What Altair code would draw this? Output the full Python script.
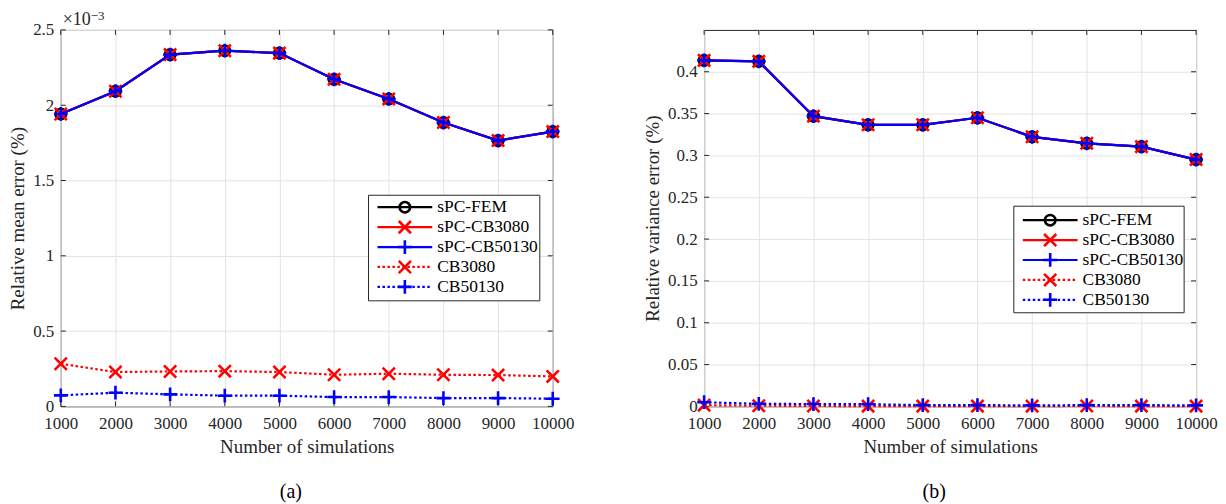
import altair as alt
import pandas as pd

# ---------------- data ----------------
sims = [1000, 2000, 3000, 4000, 5000, 6000, 7000, 8000, 9000, 10000]
series_names = ["sPC-FEM", "sPC-CB3080", "sPC-CB50130", "CB3080", "CB50130"]

# (a) relative mean error (%), in units of 1e-3
mean_spc_fem = [1.942, 2.093, 2.336, 2.362, 2.346, 2.172, 2.042, 1.885, 1.765, 1.825]
mean_spc_cb3080 = [1.942, 2.093, 2.336, 2.362, 2.346, 2.172, 2.042, 1.885, 1.765, 1.825]
mean_spc_cb50130 = [1.942, 2.093, 2.336, 2.362, 2.346, 2.172, 2.042, 1.885, 1.765, 1.825]
mean_cb3080 = [0.283, 0.228, 0.232, 0.234, 0.228, 0.210, 0.217, 0.210, 0.208, 0.199]
mean_cb50130 = [0.073, 0.091, 0.080, 0.071, 0.071, 0.062, 0.062, 0.055, 0.055, 0.051]

# (b) relative variance error (%)
var_spc_fem = [0.4136, 0.4124, 0.3469, 0.3366, 0.3366, 0.3450, 0.3222, 0.3145, 0.3105, 0.2950]
var_spc_cb3080 = [0.4136, 0.4124, 0.3469, 0.3366, 0.3366, 0.3450, 0.3222, 0.3145, 0.3105, 0.2950]
var_spc_cb50130 = [0.4136, 0.4124, 0.3469, 0.3366, 0.3366, 0.3450, 0.3222, 0.3145, 0.3105, 0.2950]
var_cb3080 = [0.0015, 0.0008, 0.0005, 0.0003, 0.0003, 0.0003, 0.0003, 0.0005, 0.0003, 0.0003]
var_cb50130 = [0.0050, 0.0030, 0.0028, 0.0026, 0.0015, 0.0015, 0.0012, 0.0015, 0.0015, 0.0012]

x_ticks = [1000, 2000, 3000, 4000, 5000, 6000, 7000, 8000, 9000, 10000]
mean_y_ticks = [0, 0.5, 1, 1.5, 2, 2.5]
var_y_ticks = [0, 0.05, 0.1, 0.15, 0.2, 0.25, 0.3, 0.35, 0.4]

# ---------------- style ----------------
W, H = 494, 378
FONT = "Liberation Serif"
AX = "#262626"
GRID = "#e3e3e3"
X_PATH = "M-1,-1L1,1M-1,1L1,-1"
PLUS_PATH = "M-1,0L1,0M0,-1L0,1"
styles = {
    "sPC-FEM": dict(color="#000000", dash=None, shape="circle", size=110),
    "sPC-CB3080": dict(color="#ff0000", dash=None, shape=X_PATH, size=150),
    "sPC-CB50130": dict(color="#0000ff", dash=None, shape=PLUS_PATH, size=190),
    "CB3080": dict(color="#ff0000", dash=[2.5, 2.5], shape=X_PATH, size=150),
    "CB50130": dict(color="#0000ff", dash=[2.5, 2.5], shape=PLUS_PATH, size=190),
}


def line_kwargs(st):
    kw = dict(color=st["color"], strokeWidth=2.2, strokeCap="butt")
    if st["dash"]:
        kw["strokeDash"] = st["dash"]
    return kw


def point_kwargs(st):
    return dict(shape=st["shape"], filled=False, size=st["size"], strokeWidth=2.6,
                color=st["color"], opacity=1)


def panel(values, y_title, y_domain, y_ticks, leg, tag, sci=False):
    X = alt.X("n:Q", title="Number of simulations",
              scale=alt.Scale(domain=[1000, 10000], nice=False, zero=False),
              axis=alt.Axis(values=x_ticks, format="d", labelFlush=False, ticks=False,
                            domain=False, grid=True, gridColor=GRID, labelPadding=9,
                            titlePadding=6))
    Y = alt.Y("v:Q", title=y_title,
              scale=alt.Scale(domain=y_domain, nice=False, zero=False),
              axis=alt.Axis(values=y_ticks, format="~g", ticks=False, domain=False,
                            grid=True, gridColor=GRID, labelPadding=7, titlePadding=5))
    layers = []
    # inward tick marks (box on)
    xt = pd.DataFrame({"n": x_ticks})
    yt = pd.DataFrame({"v": y_ticks})
    layers.append(alt.Chart(xt).mark_rule(color=AX, strokeWidth=1).encode(
        x=X, y=alt.value(H), y2=alt.value(H - 5)))
    layers.append(alt.Chart(xt).mark_rule(color=AX, strokeWidth=1).encode(
        x=X, y=alt.value(0), y2=alt.value(5)))
    layers.append(alt.Chart(yt).mark_rule(color=AX, strokeWidth=1).encode(
        y=Y, x=alt.value(0), x2=alt.value(5)))
    layers.append(alt.Chart(yt).mark_rule(color=AX, strokeWidth=1).encode(
        y=Y, x=alt.value(W), x2=alt.value(W - 5)))

    for name, vals in zip(series_names, values):
        st = styles[name]
        df = pd.DataFrame({"n": sims, "v": vals})
        layers.append(alt.Chart(df).mark_line(**line_kwargs(st)).encode(x=X, y=Y))
        layers.append(alt.Chart(df).mark_point(**point_kwargs(st)).encode(x=X, y=Y))

    # legend
    leg_df = pd.DataFrame({"label": series_names, "i": list(range(len(series_names)))})
    bx0, bx1, by0, by1, ry0, lx0, lx1, tx = leg
    layers.append(alt.Chart(leg_df).transform_filter(alt.datum.i == 0).mark_rect(
        fill="white", stroke=AX, strokeWidth=1).encode(
        x=alt.value(bx0), x2=alt.value(bx1), y=alt.value(by0), y2=alt.value(by1)))
    for k, name in enumerate(series_names):
        st = styles[name]
        ly = ry0 + 20 * k
        sub = alt.Chart(leg_df).transform_filter(alt.datum.i == k)
        layers.append(sub.mark_rule(**line_kwargs(st)).encode(
            x=alt.value(lx0), x2=alt.value(lx1), y=alt.value(ly)))
        layers.append(sub.mark_point(**point_kwargs(st)).encode(
            x=alt.value((lx0 + lx1) / 2), y=alt.value(ly)))
        layers.append(sub.mark_text(align="left", baseline="middle", font=FONT,
                                    fontSize=17.5, color="#000000").encode(
            x=alt.value(tx), y=alt.value(ly), text="label:N"))

    one = pd.DataFrame({"t": [tag]})
    layers.append(alt.Chart(one).mark_text(align="center", baseline="middle", font=FONT,
                                           fontSize=20, color="#000000").encode(
        x=alt.value(W / 2 - 16), y=alt.value(H + 86), text="t:N"))
    if sci:
        s1 = pd.DataFrame({"t": ["×10"]})
        s2 = pd.DataFrame({"t": ["−3"]})
        layers.append(alt.Chart(s1).mark_text(align="left", baseline="alphabetic",
                                              font=FONT, fontSize=18, color=AX).encode(
            x=alt.value(2), y=alt.value(-5), text="t:N"))
        layers.append(alt.Chart(s2).mark_text(align="left", baseline="top",
                                              font=FONT, fontSize=13, color=AX).encode(
            x=alt.value(30), y=alt.value(-20), text="t:N"))
    return alt.layer(*layers).properties(width=W, height=H)


left = panel([mean_spc_fem, mean_spc_cb3080, mean_spc_cb50130, mean_cb3080, mean_cb50130],
             "Relative mean error (%)", [0, 2.5], mean_y_ticks,
             (309, 481, 166, 272, 178, 318, 373, 378), "(a)", sci=True)
right = panel([var_spc_fem, var_spc_cb3080, var_spc_cb50130, var_cb3080, var_cb50130],
              "Relative variance error (%)", [0, 0.45], var_y_ticks,
              (311, 482, 177, 284, 191, 320, 375, 380), "(b)")

chart = alt.hconcat(left, right, spacing=68).properties(padding=0).configure_view(
    stroke=AX, strokeWidth=1
).configure_axis(
    labelFont=FONT, titleFont=FONT, labelFontSize=17, titleFontSize=19,
    labelColor=AX, titleColor=AX, titleFontWeight="normal"
)

chart.save("out.html", embed_options={"renderer": "svg", "actions": False})
